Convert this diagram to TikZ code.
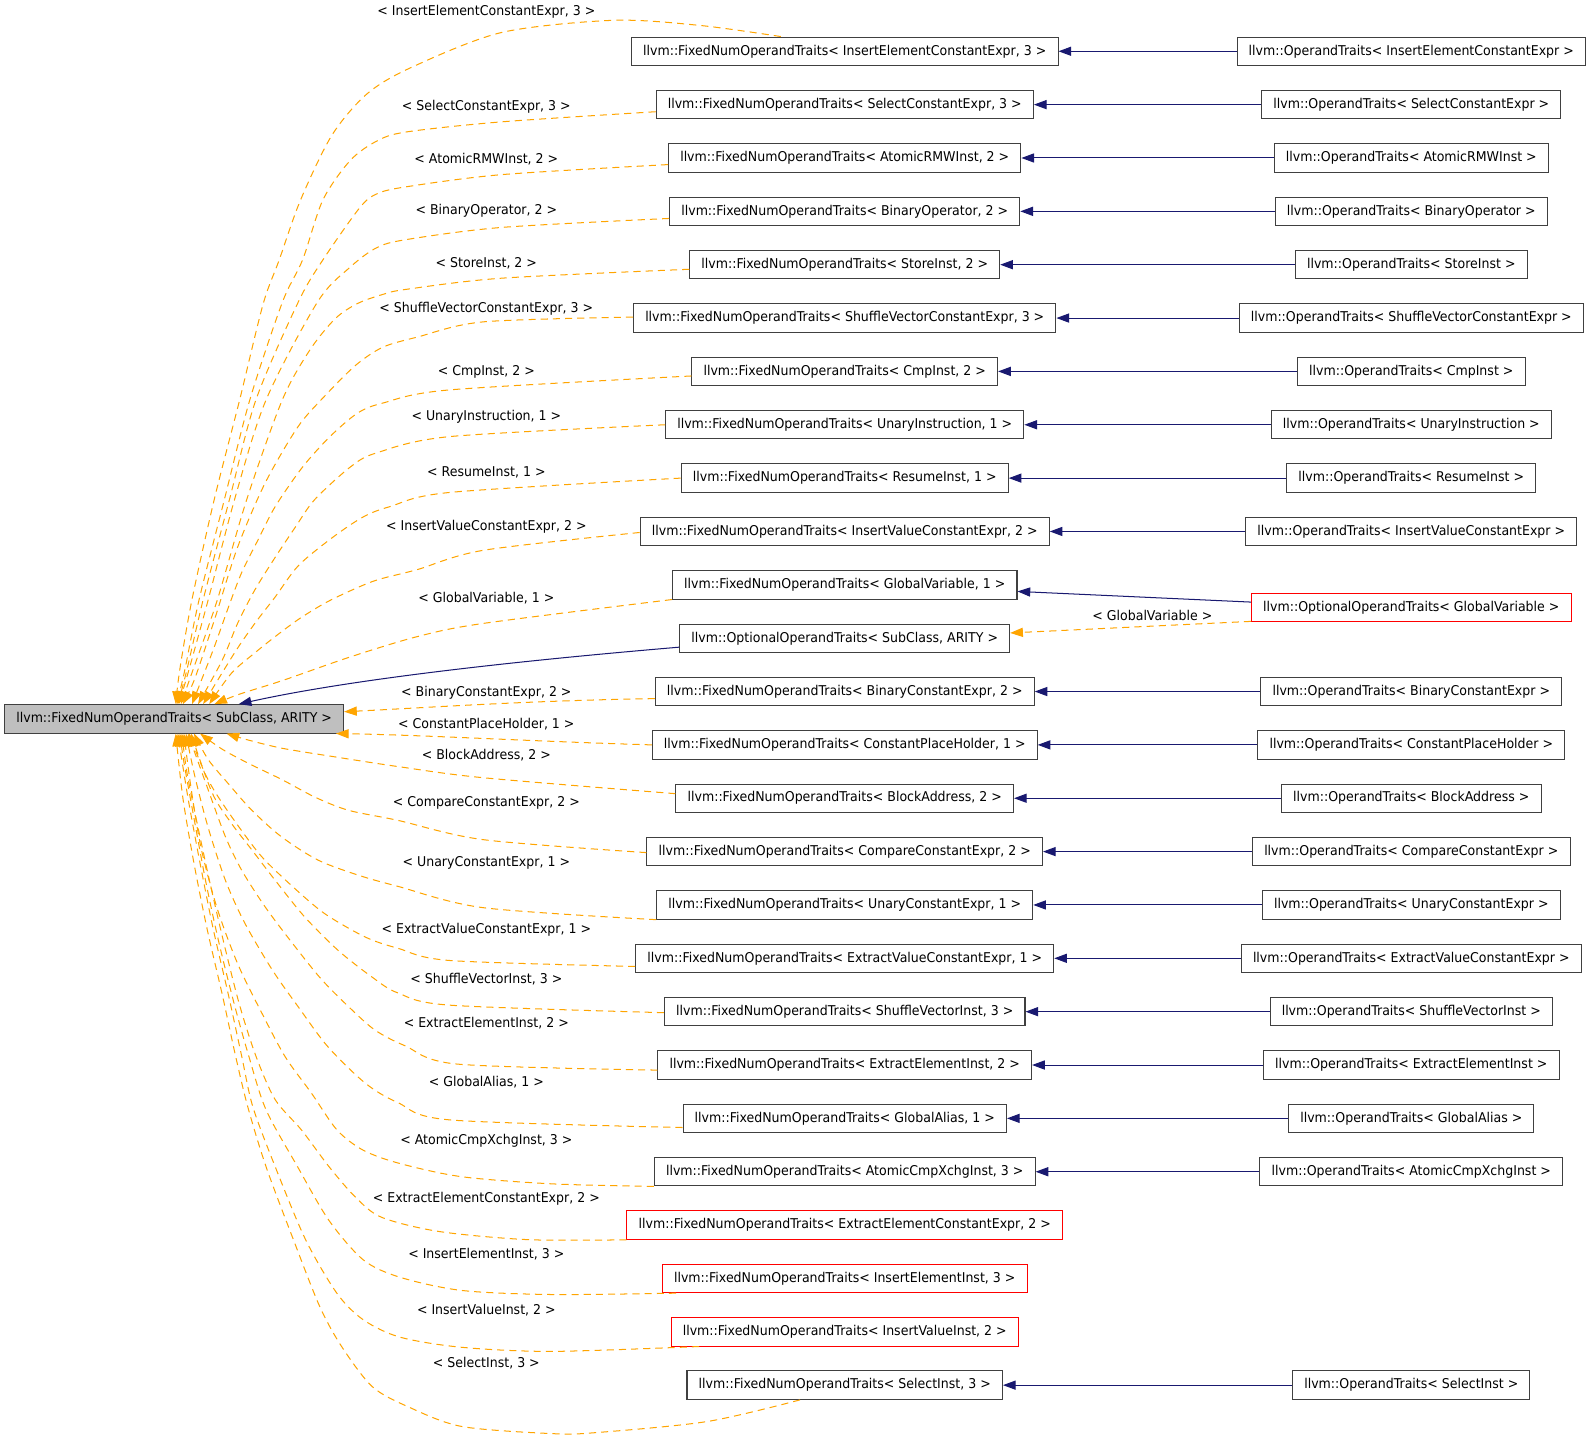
\documentclass[tikz,border=0pt]{standalone}
\usepackage{fontspec}
\setmainfont{DejaVu Sans}[FakeStretch=0.93]
\usetikzlibrary{arrows.meta,calc}
\definecolor{edgeorange}{HTML}{FFA500}
\definecolor{edgeblue}{HTML}{191970}
\definecolor{boxline}{HTML}{404040}
\definecolor{redline}{HTML}{FF0000}
\definecolor{basefill}{HTML}{BFBFBF}
\begin{document}
\begin{tikzpicture}[x=1pt,y=-1pt,
  clsbox/.style={draw=boxline, line width=1pt, fill=white, minimum height=28pt, inner xsep=11.5pt, inner ysep=0pt, font=\fontsize{13.3pt}{15pt}\selectfont},
  redbox/.style={clsbox, draw=redline},
  lbl/.style={inner sep=0pt, font=\fontsize{13.3pt}{15pt}\selectfont},
  oedge/.style={draw=edgeorange, line width=1pt, dash pattern=on 7pt off 5pt, -{Triangle[length=12.5pt,width=9pt]}},
  bedge/.style={draw=edgeblue, line width=1pt, -{Triangle[length=12.5pt,width=9pt]}},
  sm/.style={smooth, tension=0.5}]
\fill[white] (0,0) rectangle (1568,1419);
\useasboundingbox (0,0) rectangle (1568,1419);

% base node
\node[clsbox, fill=basefill] (base) at (171.5,708) {llvm::FixedNumOperandTraits< SubClass, ARITY >};

% middle column
\node[clsbox] (n1) at (832,50.5) {llvm::FixedNumOperandTraits< InsertElementConstantExpr, 3 >};
\node[clsbox] (n2) at (832,103.05) {llvm::FixedNumOperandTraits< SelectConstantExpr, 3 >};
\node[clsbox] (n3) at (832,155.6) {llvm::FixedNumOperandTraits< AtomicRMWInst, 2 >};
\node[clsbox] (n4) at (832,208.15) {llvm::FixedNumOperandTraits< BinaryOperator, 2 >};
\node[clsbox] (n5) at (832,260.7) {llvm::FixedNumOperandTraits< StoreInst, 2 >};
\node[clsbox] (n6) at (832,313.25) {llvm::FixedNumOperandTraits< ShuffleVectorConstantExpr, 3 >};
\node[clsbox] (n7) at (832,365.8) {llvm::FixedNumOperandTraits< CmpInst, 2 >};
\node[clsbox] (n8) at (832,418.35) {llvm::FixedNumOperandTraits< UnaryInstruction, 1 >};
\node[clsbox] (n9) at (832,470.9) {llvm::FixedNumOperandTraits< ResumeInst, 1 >};
\node[clsbox] (n10) at (832,523.45) {llvm::FixedNumOperandTraits< InsertValueConstantExpr, 2 >};
\node[clsbox] (n11) at (832,576.0) {llvm::FixedNumOperandTraits< GlobalVariable, 1 >};
\node[clsbox] (n12) at (832,628.9) {llvm::OptionalOperandTraits< SubClass, ARITY >};
\node[clsbox] (n13) at (832,681.1) {llvm::FixedNumOperandTraits< BinaryConstantExpr, 2 >};
\node[clsbox] (n14) at (832,733.65) {llvm::FixedNumOperandTraits< ConstantPlaceHolder, 1 >};
\node[clsbox] (n15) at (832,786.2) {llvm::FixedNumOperandTraits< BlockAddress, 2 >};
\node[clsbox] (n16) at (832,838.75) {llvm::FixedNumOperandTraits< CompareConstantExpr, 2 >};
\node[clsbox] (n17) at (832,891.3) {llvm::FixedNumOperandTraits< UnaryConstantExpr, 1 >};
\node[clsbox] (n18) at (832,943.85) {llvm::FixedNumOperandTraits< ExtractValueConstantExpr, 1 >};
\node[clsbox] (n19) at (832,996.4) {llvm::FixedNumOperandTraits< ShuffleVectorInst, 3 >};
\node[clsbox] (n20) at (832,1048.95) {llvm::FixedNumOperandTraits< ExtractElementInst, 2 >};
\node[clsbox] (n21) at (832,1101.5) {llvm::FixedNumOperandTraits< GlobalAlias, 1 >};
\node[clsbox] (n22) at (832,1154.05) {llvm::FixedNumOperandTraits< AtomicCmpXchgInst, 3 >};
\node[redbox] (n23) at (832,1206.6) {llvm::FixedNumOperandTraits< ExtractElementConstantExpr, 2 >};
\node[redbox] (n24) at (832,1259.15) {llvm::FixedNumOperandTraits< InsertElementInst, 3 >};
\node[redbox] (n25) at (832,1311.7) {llvm::FixedNumOperandTraits< InsertValueInst, 2 >};
\node[clsbox] (n26) at (832,1364.25) {llvm::FixedNumOperandTraits< SelectInst, 3 >};

% right column
\node[clsbox] (r1) at (1390,50.5) {llvm::OperandTraits< InsertElementConstantExpr >};
\node[clsbox] (r2) at (1390,103.05) {llvm::OperandTraits< SelectConstantExpr >};
\node[clsbox] (r3) at (1390,155.6) {llvm::OperandTraits< AtomicRMWInst >};
\node[clsbox] (r4) at (1390,208.15) {llvm::OperandTraits< BinaryOperator >};
\node[clsbox] (r5) at (1390,260.7) {llvm::OperandTraits< StoreInst >};
\node[clsbox] (r6) at (1390,313.25) {llvm::OperandTraits< ShuffleVectorConstantExpr >};
\node[clsbox] (r7) at (1390,365.8) {llvm::OperandTraits< CmpInst >};
\node[clsbox] (r8) at (1390,418.35) {llvm::OperandTraits< UnaryInstruction >};
\node[clsbox] (r9) at (1390,470.9) {llvm::OperandTraits< ResumeInst >};
\node[clsbox] (r10) at (1390,523.45) {llvm::OperandTraits< InsertValueConstantExpr >};
\node[redbox] (r11) at (1390,598.5) {llvm::OptionalOperandTraits< GlobalVariable >};
\node[clsbox] (r13) at (1390,681.1) {llvm::OperandTraits< BinaryConstantExpr >};
\node[clsbox] (r14) at (1390,733.65) {llvm::OperandTraits< ConstantPlaceHolder >};
\node[clsbox] (r15) at (1390,786.2) {llvm::OperandTraits< BlockAddress >};
\node[clsbox] (r16) at (1390,838.75) {llvm::OperandTraits< CompareConstantExpr >};
\node[clsbox] (r17) at (1390,891.3) {llvm::OperandTraits< UnaryConstantExpr >};
\node[clsbox] (r18) at (1390,943.85) {llvm::OperandTraits< ExtractValueConstantExpr >};
\node[clsbox] (r19) at (1390,996.4) {llvm::OperandTraits< ShuffleVectorInst >};
\node[clsbox] (r20) at (1390,1048.95) {llvm::OperandTraits< ExtractElementInst >};
\node[clsbox] (r21) at (1390,1101.5) {llvm::OperandTraits< GlobalAlias >};
\node[clsbox] (r22) at (1390,1154.05) {llvm::OperandTraits< AtomicCmpXchgInst >};
\node[clsbox] (r26) at (1390,1364.25) {llvm::OperandTraits< SelectInst >};

% edge labels
\node[lbl] (l1) at (479,12) {< InsertElementConstantExpr, 3 >};
\node[lbl] (l2) at (479,105) {< SelectConstantExpr, 3 >};
\node[lbl] (l3) at (479,157) {< AtomicRMWInst, 2 >};
\node[lbl] (l4) at (479,208) {< BinaryOperator, 2 >};
\node[lbl] (l5) at (479,259) {< StoreInst, 2 >};
\node[lbl] (l6) at (479,304) {< ShuffleVectorConstantExpr, 3 >};
\node[lbl] (l7) at (479,366) {< CmpInst, 2 >};
\node[lbl] (l8) at (479,410) {< UnaryInstruction, 1 >};
\node[lbl] (l9) at (479,465) {< ResumeInst, 1 >};
\node[lbl] (l10) at (479,519) {< InsertValueConstantExpr, 2 >};
\node[lbl] (l11) at (479,589) {< GlobalVariable, 1 >};
\node[lbl] (lgv) at (1135,606) {< GlobalVariable >};
\node[lbl] (l13) at (479,682) {< BinaryConstantExpr, 2 >};
\node[lbl] (l14) at (479,713) {< ConstantPlaceHolder, 1 >};
\node[lbl] (l15) at (479,744) {< BlockAddress, 2 >};
\node[lbl] (l16) at (479,791) {< CompareConstantExpr, 2 >};
\node[lbl] (l17) at (479,850) {< UnaryConstantExpr, 1 >};
\node[lbl] (l18) at (479,916) {< ExtractValueConstantExpr, 1 >};
\node[lbl] (l19) at (479,964) {< ShuffleVectorInst, 3 >};
\node[lbl] (l20) at (479,1008) {< ExtractElementInst, 2 >};
\node[lbl] (l21) at (479,1066) {< GlobalAlias, 1 >};
\node[lbl] (l22) at (479,1124) {< AtomicCmpXchgInst, 3 >};
\node[lbl] (l23) at (479,1181) {< ExtractElementConstantExpr, 2 >};
\node[lbl] (l24) at (479,1235) {< InsertElementInst, 3 >};
\node[lbl] (l25) at (479,1290) {< InsertValueInst, 2 >};
\node[lbl] (l26) at (479,1343) {< SelectInst, 3 >};

% blue edges right -> middle
\foreach \i in {1,...,10,13,14,...,22,26} \draw[bedge] (r\i.west) -- (n\i.east);
\draw[bedge] ($(r11.west)+(0,-5.5)$) -- ($(n11.east)+(0,6.5)$);
\draw[oedge] ($(r11.west)+(0,13.5)$) -- ($(n12.east)+(0,-5.5)$);
\draw[bedge] ($(n12.west)+(0,8.5)$) .. controls (520,650) and (350,668) .. ($(base.north west)+(231,0)$);

% orange edges, upper group
\draw[oedge] plot[sm] coordinates {($(n1.north)+(-63,0)$) (689,25) (604,20) (494,32) (406,66) (362,92) (327,133) (296,197) (275,256) (259,300) (236,394) (211,492) (189,591) (177,660) ($(base.north west)+(169,0)$)};
\draw[oedge] plot[sm] coordinates {($(n2.west)+(0,7)$) (494,120) (400,130) (371,139) (345,158) (318,197) (298,256) (278,298) (246,394) (221,492) (196,591) (182,660) ($(base.north west)+(170,0)$)};
\draw[oedge] plot[sm] coordinates {($(n3.west)+(0,6.5)$) (494,172) (400,184) (371,191) (354,205) (318,256) (294,297) (252,394) (226,492) (200,591) (184,660) ($(base.north west)+(171,0)$)};
\draw[oedge] plot[sm] coordinates {($(n4.west)+(0,7)$) (494,224) (400,236) (371,244) (345,263) (313,297) (262,394) (231,492) (205,591) (186,660) ($(base.north west)+(172,0)$)};
\draw[oedge] plot[sm] coordinates {($(n5.west)+(0,4.5)$) (494,274) (400,285) (377,290) (352,299) (330,314) (305,345) (278,394) (243,492) (214,591) (190,660) ($(base.north west)+(174,0)$)};
\draw[oedge] plot[sm] coordinates {($(n6.west)+(0,-1)$) (476,317) (411,332) (377,342) (350,360) (318,392) (293,421) (261,476) (234,539) (212,608) (192,668) ($(base.north west)+(176,0)$)};
\draw[oedge] plot[sm] coordinates {($(n7.west)+(0,4.5)$) (443,384) (377,397) (352,407) (325,430) (298,460) (271,499) (254,532) (238,564) (225,598) (210,640) ($(base.north west)+(185,0)$)};
\draw[oedge] plot[sm] coordinates {(n8.west) (443,430) (371,446) (345,460) (310,492) (291,519) (271,549) (251,581) (234,614) (219,650) ($(base.north west)+(191,0)$)};
\draw[oedge] plot[sm] coordinates {(n9.west) (443,485) (384,499) (358,509) (328,529) (294,557) (271,588) (251,614) (231,643) ($(base.north west)+(196,0)$)};
\draw[oedge] plot[sm] coordinates {($(n10.west)+(0,1)$) (476,542) (411,561) (372,571) (347,581) (320,594) (294,610) (271,627) (251,643) (228,663) ($(base.north west)+(202,0)$)};
\draw[oedge] plot[sm] coordinates {(n11.south west) (476,614) (411,627) (345,647) (279,670) (235,684) ($(base.north west)+(207,0)$)};

% orange edges, lower group
\draw[oedge] ($(n13.west)+(0,7)$) .. controls (520,690) and (420,697) .. ($(base.east)+(0,-7)$);
\draw[oedge] (n14.west) .. controls (520,730) and (420,724) .. ($(base.south east)+(-8,0)$);
\draw[oedge] plot[sm] coordinates {($(n15.west)+(0,-4.5)$) (476,766) (392,755) (327,745) (278,737) (245,729) ($(base.south west)+(219,0)$)};
\draw[oedge] plot[sm] coordinates {($(n16.west)+(0,1)$) (476,827) (392,808) (343,798) (310,785) (278,768) (245,752) (219,738) ($(base.south west)+(193,0)$)};
\draw[oedge] plot[sm] coordinates {(n17.south west) (476,894) (392,873) (353,862) (313,847) (277,824) (248,798) (225,772) (205,748) ($(base.south west)+(187,0)$)};
\draw[oedge] plot[sm] coordinates {($(n18.west)+(0,8)$) (443,946) (392,934) (360,923) (320,900) (288,873) (258,844) (235,814) (215,785) (202,762) ($(base.south west)+(182,0)$)};
\draw[oedge] plot[sm] coordinates {($(n19.west)+(0,1)$) (443,990) (392,978) (366,962) (333,936) (300,903) (271,867) (248,837) (228,811) (209,781) ($(base.south west)+(184,0)$)};
\draw[oedge] plot[sm] coordinates {($(n20.west)+(0,5)$) (450,1048) (399,1030) (370,1015) (347,995) (317,965) (288,929) (261,893) (238,857) (222,824) (204,775) ($(base.south west)+(181,0)$)};
\draw[oedge] plot[sm] coordinates {($(n21.west)+(0,9)$) (443,1103) (392,1086) (360,1067) (323,1031) (294,992) (268,955) (241,909) (222,867) (205,815) (192,765) ($(base.south west)+(179,0)$)};
\draw[oedge] plot[sm] coordinates {(n22.south west) (544,1166) (455,1159) (394,1146) (358,1133) (332,1113) (307,1077) (281,1041) (258,998) (234,949) (214,895) (198,835) (188,775) ($(base.south west)+(177,0)$)};
\draw[oedge] plot[sm] coordinates {(n23.south west) (521,1221) (433,1213) (376,1199) (350,1179) (324,1149) (297,1113) (271,1083) (252,1040) (236,990) (222,935) (208,875) (194,810) (184,760) ($(base.south west)+(175,0)$)};
\draw[oedge] plot[sm] coordinates {($(n24.south west)+(14,0)$) (544,1275) (455,1271) (394,1258) (358,1241) (324,1202) (293,1149) (262,1093) (245,1040) (231,990) (216,930) (203,870) (190,800) (181,750) ($(base.south west)+(173,0)$)};
\draw[oedge] plot[sm] coordinates {($(n25.south west)+(28,0)$) (544,1331) (455,1327) (394,1317) (358,1300) (332,1274) (301,1221) (271,1149) (249,1090) (238,1040) (225,980) (210,915) (197,850) (185,785) ($(base.south west)+(171,0)$)};
\draw[oedge] plot[sm] coordinates {($(n26.south)+(-44,0)$) (697,1400) (587,1411) (544,1412) (455,1405) (403,1386) (367,1366) (337,1327) (315,1287) (289,1221) (262,1149) (244,1090) (232,1040) (219,980) (204,915) (191,850) (180,785) ($(base.south west)+(169,0)$)};
\end{tikzpicture}
\end{document}
